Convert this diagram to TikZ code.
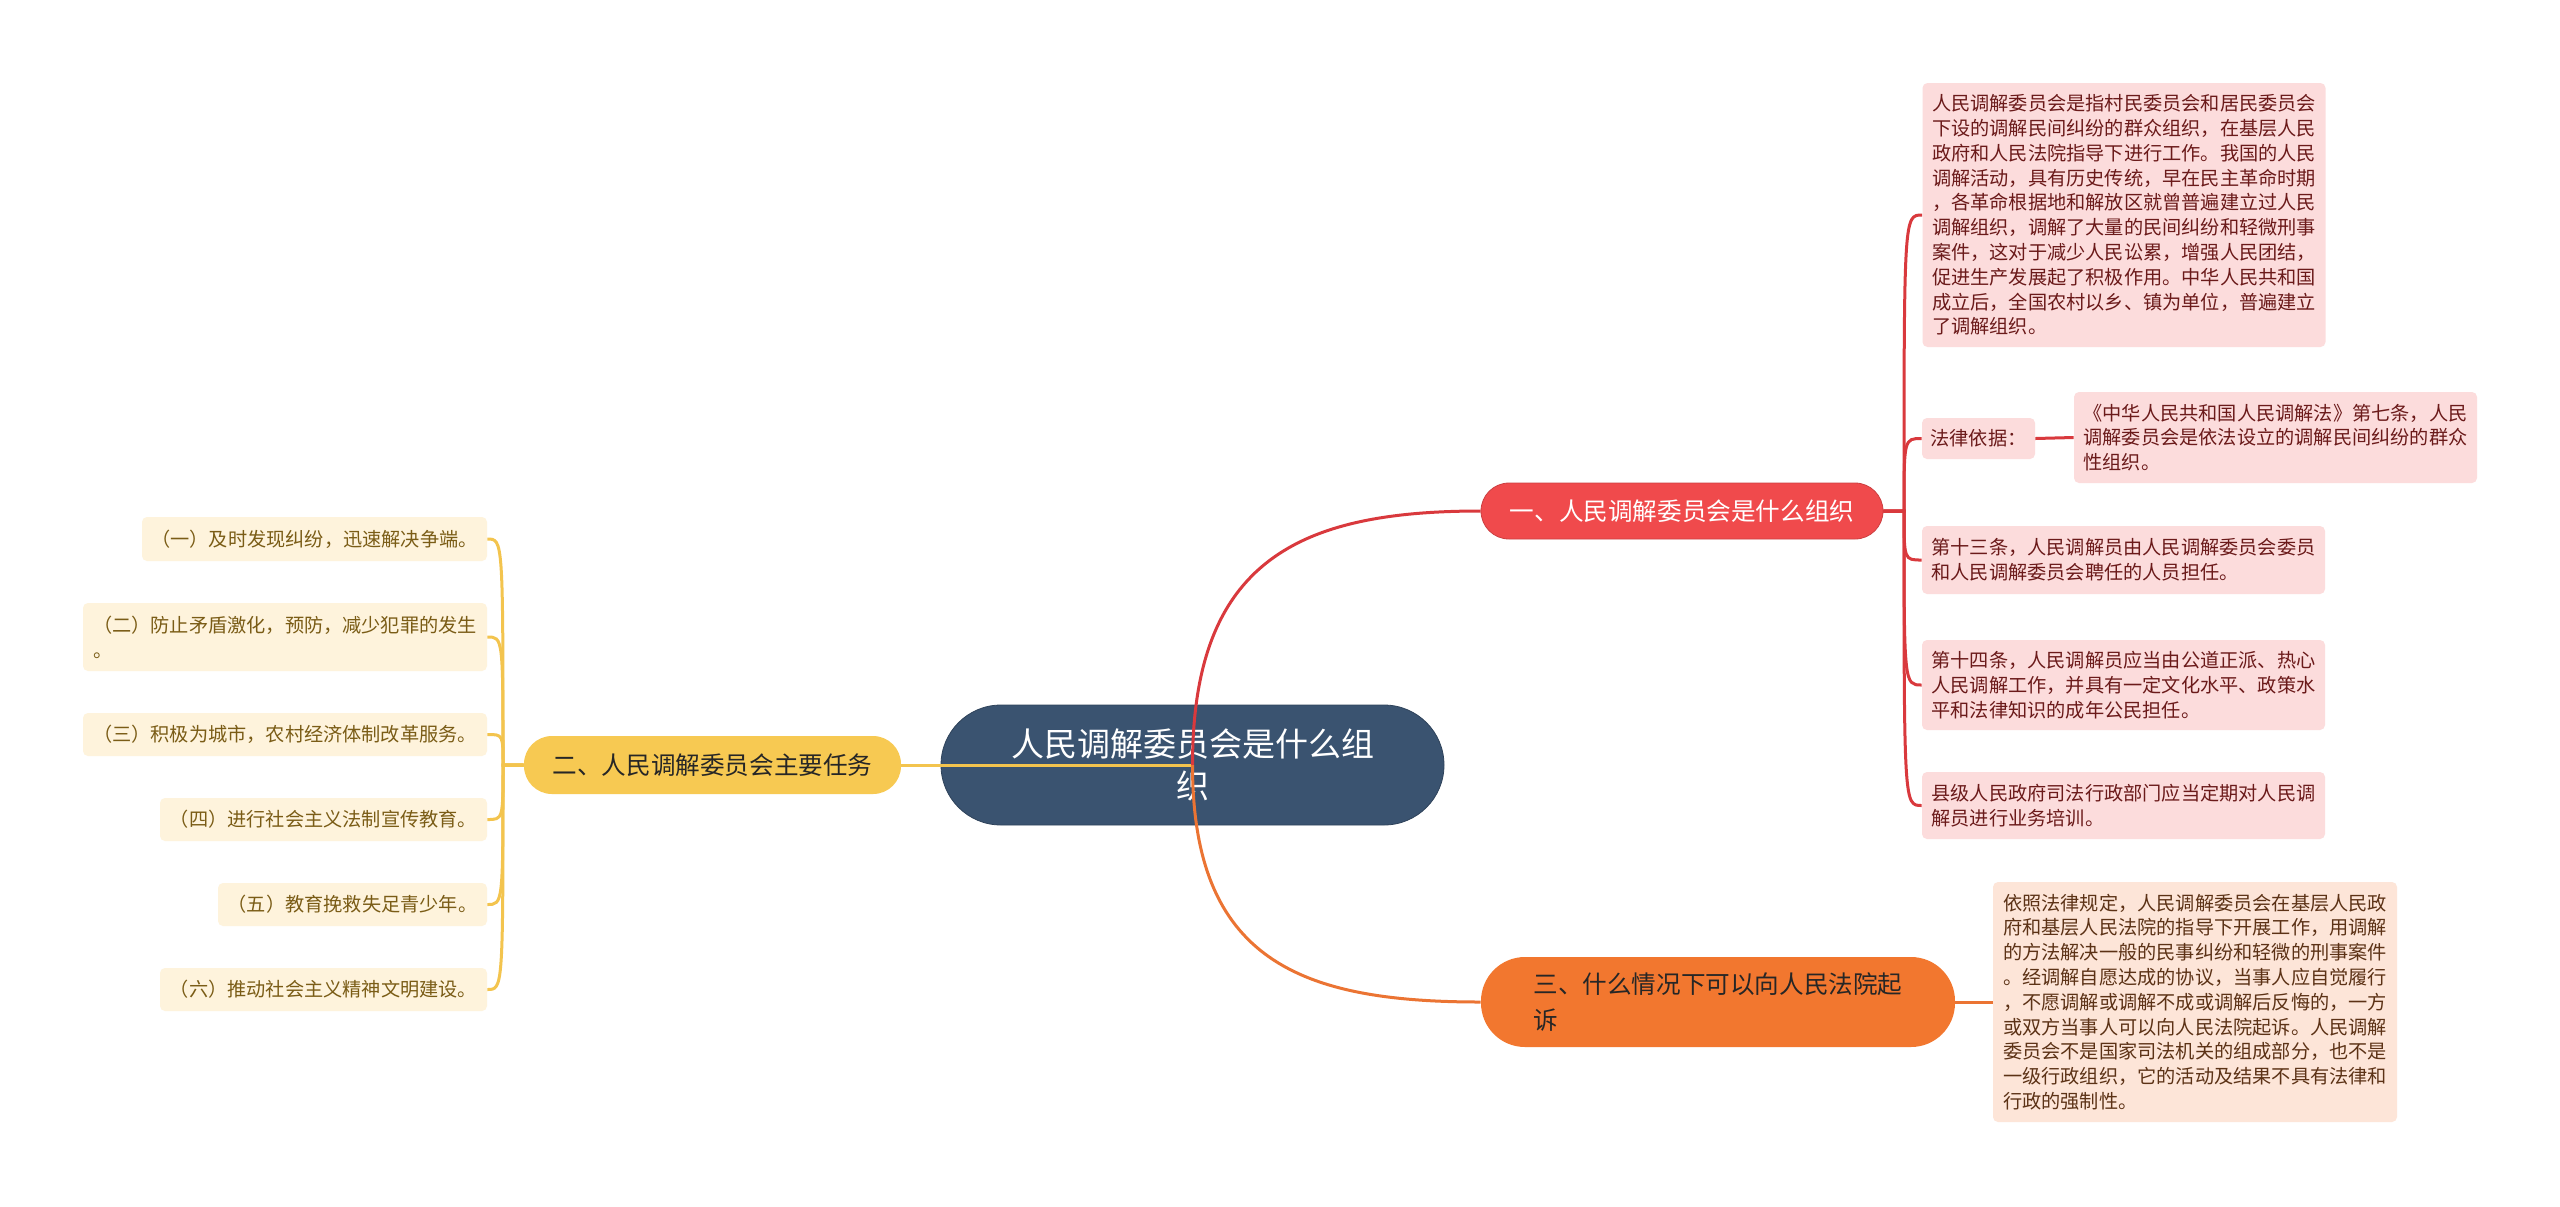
\documentclass[tikz,border=0pt]{standalone}
\usepackage{fontspec}
\setmainfont{Noto Sans CJK SC}
\usepackage{xcolor}
\definecolor{zhutilan}{HTML}{3A5370}
\definecolor{hongse}{HTML}{F04A4C}
\definecolor{hongxian}{HTML}{D9393D}
\definecolor{hongdi}{HTML}{FCDCDC}
\definecolor{hongzi}{HTML}{6B1A1A}
\definecolor{huangse}{HTML}{F7C952}
\definecolor{huangxian}{HTML}{F3C44E}
\definecolor{huangdi}{HTML}{FEF3DC}
\definecolor{huangzi}{HTML}{7A5C16}
\definecolor{chengse}{HTML}{F2772F}
\definecolor{chengxian}{HTML}{EB7433}
\definecolor{chengdi}{HTML}{FDE5D8}
\definecolor{chengzi}{HTML}{5C3216}

\begin{document}
\begin{tikzpicture}[
    x=0.5pt, y=-0.5pt,
    zhuti/.style={fill=zhutilan, draw=zhutilan!80!black, text=white,
        rounded corners=30pt, minimum width=251.5pt, minimum height=60pt,
        align=center, font=\fontsize{16.5}{21}\selectfont},
    fenzhi/.style={rounded corners=14pt, minimum height=28pt, inner sep=2pt,
        align=left, font=\fontsize{12.3}{17.5}\selectfont},
    yezi/.style={rounded corners=2.5pt, inner sep=2pt, align=left,
        font=\fontsize{9.6}{12.4}\selectfont},
    yehong/.style={yezi, fill=hongdi, text=hongzi, minimum width=201.5pt},
    yehuang/.style={yezi, fill=huangdi, text=huangzi, minimum height=21.5pt},
    yecheng/.style={yezi, fill=chengdi, text=chengzi, minimum width=202pt},
    xianhong/.style={draw=hongxian, line width=1.5pt},
    xianhuang/.style={draw=huangxian, line width=1.5pt},
    xiancheng/.style={draw=chengxian, line width=1.5pt}
]
    \fill[white] (0,0) rectangle (2560,1206);
    \useasboundingbox (0,0) rectangle (2560,1206);

    % zhongxin
    \node[zhuti] (zx) at (1192.5,765) {人民调解委员会是什么组\\织};

    % fenzhi
    \node[fenzhi, fill=hongse, draw=hongse!85!black, text=white,
        minimum width=201pt] (b1) at (1682,511) {一、人民调解委员会是什么组织};
    \node[fenzhi, fill=huangse, text=black!85,
        minimum width=188.5pt, minimum height=29pt] (b2) at (712.5,765) {二、人民调解委员会主要任务};
    \node[fenzhi, fill=chengse, text=black!85, rounded corners=22pt,
        minimum width=237pt, minimum height=45pt] (b3) at (1718,1002) {三、什么情况下可以向人民法院起\\诉};

    % yi
    \node[yehong, minimum height=132pt] (r1) at (2124,215) {人民调解委员会是指村民委员会和居民委员会\\下设的调解民间纠纷的群众组织，在基层人民\\政府和人民法院指导下进行工作。我国的人民\\调解活动，具有历史传统，早在民主革命时期\\，各革命根据地和解放区就曾普遍建立过人民\\调解组织，调解了大量的民间纠纷和轻微刑事\\案件，这对于减少人民讼累，增强人民团结，\\促进生产发展起了积极作用。中华人民共和国\\成立后，全国农村以乡、镇为单位，普遍建立\\了调解组织。};
    \node[yehong, minimum width=56.5pt, minimum height=20.5pt] (r2) at (1978.5,438.5) {法律依据：};
    \node[yehong, minimum height=45.5pt] (r2b) at (2275.5,437.5) {《中华人民共和国人民调解法》第七条，人民\\调解委员会是依法设立的调解民间纠纷的群众\\性组织。};
    \node[yehong, minimum height=34pt] (r3) at (2123.5,560) {第十三条，人民调解员由人民调解委员会委员\\和人民调解委员会聘任的人员担任。};
    \node[yehong, minimum height=45pt] (r4) at (2123.5,685) {第十四条，人民调解员应当由公道正派、热心\\人民调解工作，并具有一定文化水平、政策水\\平和法律知识的成年公民担任。};
    \node[yehong, minimum height=33.5pt] (r5) at (2123.5,805.5) {县级人民政府司法行政部门应当定期对人民调\\解员进行业务培训。};

    % er
    \node[yehuang, minimum width=172.5pt, minimum height=22pt] (y1) at (314.5,539) {（一）及时发现纠纷，迅速解决争端。};
    \node[yehuang, minimum width=202pt, minimum height=34pt] (y2) at (285,637) {（二）防止矛盾激化，预防，减少犯罪的发生\\。};
    \node[yehuang, minimum width=202pt] (y3) at (285,734.5) {（三）积极为城市，农村经济体制改革服务。};
    \node[yehuang, minimum width=163.5pt] (y4) at (323.5,819.5) {（四）进行社会主义法制宣传教育。};
    \node[yehuang, minimum width=134.5pt] (y5) at (352.5,904.5) {（五）教育挽救失足青少年。};
    \node[yehuang, minimum width=163.5pt] (y6) at (323.5,989.5) {（六）推动社会主义精神文明建设。};

    % san
    \node[yecheng, minimum height=120pt] (c1) at (2195,1002) {依照法律规定，人民调解委员会在基层人民政\\府和基层人民法院的指导下开展工作，用调解\\的方法解决一般的民事纠纷和轻微的刑事案件\\。经调解自愿达成的协议，当事人应自觉履行\\，不愿调解或调解不成或调解后反悔的，一方\\或双方当事人可以向人民法院起诉。人民调解\\委员会不是国家司法机关的组成部分，也不是\\一级行政组织，它的活动及结果不具有法律和\\行政的强制性。};

    % lianxian
    \coordinate (jh) at (503,765);
    \coordinate (jr) at (1904,511);
    \draw[xianhuang] (zx.center) -- (b2.east);
    \draw[xianhong] (zx.center) .. controls +(0,-205) and +(-181,0) .. (b1.west);
    \draw[xiancheng] (zx.center) .. controls +(0,195) and +(-181,0) .. (b3.west);
    \foreach \n in {y1,y2,y3,y4,y5,y6}
        \draw[xianhuang] (b2.west) -- (jh) .. controls (jh |- \n.east) and (jh |- \n.east) .. (\n.east);
    \foreach \n in {r1,r2,r3,r4,r5}
        \draw[xianhong] (b1.east) -- (jr) .. controls (jr |- \n.west) and (jr |- \n.west) .. (\n.west);
    \draw[xianhong] (r2.east) -- (r2b.west);
    \draw[xiancheng] (b3.east) -- (c1.west);
\end{tikzpicture}
\end{document}
